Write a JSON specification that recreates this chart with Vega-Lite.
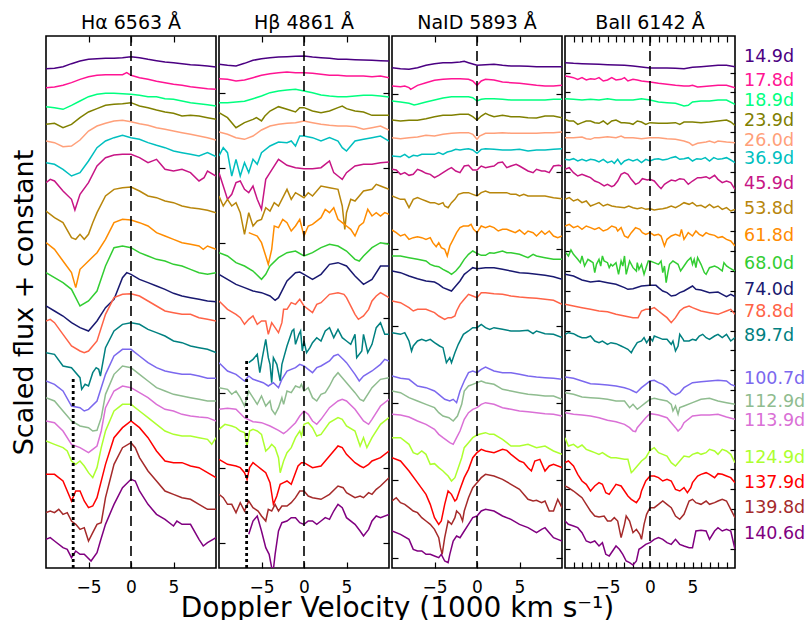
{
"$schema": "https://vega.github.io/schema/vega-lite/v6.json",
"background": "white",
"padding": {"left": 9, "top": 13, "right": 0, "bottom": 0},
"spacing": 3,
"bounds": "flush",
"datasets": {
"spec": [
{"p":"Ha","e":"14.9d","v":[-10,-9,-8,-7,-6,-5,-4,-3,-2,-1,0,1,2,3,4,5,6,7,8,9,10],"f":[1498,1499,1504,1513,1521,1526,1528,1529,1529,1531,1534,1531,1526,1522,1518,1516,1513,1510,1508,1506,1503]},
{"p":"Ha","e":"17.8d","v":[-10,-9,-8,-7,-6,-5,-4,-3,-2,-1,-0.5,0,1,2,3,4,5,6,7,8,9,10],"f":[1441,1443,1448,1456,1466,1474,1478,1480,1480,1480,1486,1478,1471,1466,1460,1456,1451,1448,1444,1441,1438,1436]},
{"p":"Ha","e":"18.9d","v":[-10,-9,-8,-7,-6,-5,-4,-3,-2,-1,0,1,2,3,4,5,6,7,8,9,10],"f":[1384,1381,1376,1388,1401,1414,1421,1424,1424,1423,1421,1418,1414,1414,1408,1406,1401,1396,1393,1390,1386]},
{"p":"Ha","e":"23.9d","v":[-10,-9,-8,-7,-6,-5,-4,-3,-2,-1,0,1,2,3,4,5,6,7,8,9,10],"f":[1331,1334,1321,1331,1351,1368,1378,1388,1391,1393,1396,1386,1381,1374,1368,1364,1356,1358,1356,1351,1346]},
{"p":"Ha","e":"26.0d","v":[-10,-9,-8,-7,-6,-5,-4,-3,-2,-1,0,1,2,3,4,5,6,7,8,9,10],"f":[1281,1276,1264,1266,1284,1311,1326,1334,1341,1343,1339,1333,1328,1321,1316,1311,1306,1301,1296,1291,1284]},
{"p":"Ha","e":"36.9d","v":[-10,-9,-8,-7,-6,-5,-4,-3,-2,-1,0,1,2,3,4,5,6,7,8,9,10],"f":[1216,1211,1196,1176,1186,1221,1261,1281,1291,1298,1291,1286,1276,1268,1261,1251,1246,1241,1236,1246,1234]},
{"p":"Ha","e":"45.9d","v":[-10,-9.5,-9,-8,-7,-6.6,-6,-5,-4,-3,-2,-1,0,1,2,2.7,3,3.5,4,5,6,7,8,8.6,9,10],"f":[1156,1166,1161,1131,1106,1074,1121,1156,1206,1231,1239,1241,1241,1231,1216,1223,1226,1211,1196,1191,1196,1186,1161,1171,1191,1176]},
{"p":"Ha","e":"53.8d","v":[-10,-9,-8,-7,-6.5,-6,-5.5,-5,-4.5,-4,-3,-2,-1,0,1,2,3,4,5,6,7,8,9,10],"f":[1071,1051,1036,991,986,1001,986,1001,1036,1066,1116,1136,1141,1143,1131,1116,1111,1101,1096,1086,1081,1078,1073,1066]},
{"p":"Ha","e":"61.8d","v":[-10,-9,-8,-7,-6.5,-6,-5,-4,-3,-2,-1,0,1,2,3,4,5,6,7,8,8.5,9,10],"f":[976,956,921,886,841,896,921,946,986,1036,1046,1044,1036,1026,1006,996,986,976,971,966,956,966,956]},
{"p":"Ha","e":"68.0d","v":[-10,-9,-8,-7,-6,-5,-4,-3,-2,-1,0,1,2,3,4,5,6,7,8,9,10],"f":[886,871,856,836,786,801,831,906,961,966,961,946,936,926,921,911,906,896,886,881,886]},
{"p":"Ha","e":"74.0d","v":[-10,-9,-8,-7,-6,-5,-4,-3,-2,-1,-0.5,0,1,2,3,4,5,6,7,8,9,10],"f":[786,771,756,736,721,711,741,781,806,871,886,881,866,856,846,836,824,816,811,806,801,799]},
{"p":"Ha","e":"78.8d","v":[-10,-9.5,-9,-8,-7,-6,-5.5,-5,-4,-3,-2,-1,0,1,2,3,4,5,6,7,8,9,10],"f":[741,746,736,701,666,651,646,651,681,761,811,821,823,816,801,786,771,766,761,761,751,746,741]},
{"p":"Ha","e":"89.7d","v":[-10,-9,-8,-7,-6,-5.8,-5.4,-5,-4.5,-4.1,-3.8,-3.6,-3,-2,-1,0,1,2,3,4,5,6,7,8,9,10],"f":[646,641,606,601,571,536,551,546,586,601,596,576,661,711,731,736,731,716,706,696,681,676,666,661,656,646]},
{"p":"Ha","e":"100.7d","v":[-10,-9,-8,-7,-6,-5.5,-5,-4,-3,-2,-1,0,1,2,3,4,5,6,7,8,9,10],"f":[561,551,531,486,481,471,476,501,581,636,656,656,636,616,601,591,586,581,581,576,569,569]},
{"p":"Ha","e":"112.9d","v":[-10,-9,-8,-7,-6,-5,-4.5,-4,-3.5,-3,-2,-1,0,1,2,3,4,5,6,7,8,9,10],"f":[511,501,471,441,426,421,411,413,451,521,581,606,601,581,561,541,531,521,516,511,506,501,501]},
{"p":"Ha","e":"113.9d","v":[-10,-9,-8,-7,-6,-5,-4.5,-4,-3.5,-3,-2,-1,0,1,2,3,4,5,6,7,8,9,10],"f":[441,436,411,371,361,346,356,366,411,481,531,546,541,526,511,491,476,471,461,456,453,451,441]},
{"p":"Ha","e":"124.9d","v":[-10,-9,-8,-7.5,-7,-6.5,-6,-5.5,-5,-4.5,-4,-3.5,-3,-2,-1,0,1,2,3,4,5,6,7,8,9,9.5,10],"f":[381,371,361,351,321,311,321,306,286,271,301,361,411,471,491,491,471,451,431,411,401,396,396,391,386,371,391]},
{"p":"Ha","e":"137.9d","v":[-10,-9,-8,-7,-6.5,-6,-5.5,-5,-4.5,-4,-3,-2,-1,0,1,2,3,4,5,6,7,8,9,10],"f":[281,281,261,201,231,231,201,181,186,211,311,391,421,441,421,391,351,321,316,316,306,301,286,271]},
{"p":"Ha","e":"139.8d","v":[-10,-9.5,-9,-8.5,-8,-7.5,-7,-6.5,-6,-5.5,-5,-4.5,-4,-3.5,-3,-2,-1,0,0.5,1,2,3,4,5,6,7,8,9,10],"f":[166,171,166,176,161,166,141,131,116,121,81,106,131,136,211,311,361,376,361,331,291,261,231,221,211,206,191,176,176]},
{"p":"Ha","e":"140.6d","v":[-10,-9.5,-9,-8,-7.5,-7,-6.5,-6,-5.5,-4.7,-4,-3.6,-3,-2,-1,0,0.5,1,2,3,4,5,5.4,6,7,8,8.5,9,10],"f":[86,91,81,61,56,31,51,41,41,21,46,81,131,191,241,266,261,231,191,161,146,126,141,131,131,86,66,76,91]},

{"p":"Hb","e":"14.9d","v":[-10,-9,-8,-7,-6,-5,-4,-3,-2,-1,0,1,2,3,4,5,6,7,8,9,10],"f":[1511,1508,1506,1514,1523,1528,1531,1533,1534,1535,1536,1533,1531,1529,1526,1526,1525,1524,1523,1522,1521]},
{"p":"Hb","e":"17.8d","v":[-10,-9,-8,-7,-6,-5,-4,-3,-2,-1,0,1,2,3,4,5,6,7,8,9,10],"f":[1468,1466,1461,1464,1471,1478,1483,1486,1488,1486,1486,1484,1481,1478,1478,1476,1476,1476,1474,1476,1471]},
{"p":"Hb","e":"18.9d","v":[-10,-9,-8,-7,-6,-5,-4,-3,-2,-1,0,1,2,3,4,5,6,7,8,9,10],"f":[1396,1396,1398,1400,1408,1416,1426,1431,1434,1436,1431,1426,1419,1416,1414,1414,1416,1418,1418,1416,1413]},
{"p":"Hb","e":"23.9d","v":[-10,-9,-8,-7,-6,-5.6,-5,-4.6,-4,-3,-2,-1,-0.5,0,1,2,3,4,4.5,5,6,7,8,9,10],"f":[1366,1351,1321,1336,1346,1351,1341,1356,1371,1384,1376,1368,1381,1381,1371,1366,1371,1381,1386,1378,1371,1368,1358,1358,1358]},
{"p":"Hb","e":"26.0d","v":[-10,-9,-8,-7,-6,-5,-4,-3,-2,-1,0,1,2,3,4,5,6,7,8,9,10],"f":[1308,1301,1291,1286,1296,1314,1326,1331,1334,1336,1341,1336,1331,1328,1326,1326,1324,1316,1321,1326,1314]},
{"p":"Hb","e":"36.9d","v":[-10,-9.5,-9,-8.5,-8,-7.5,-7,-6.5,-6,-5.5,-5,-4,-3,-2,-1.5,-1,-0.5,0,1,2,3,4,4.5,5,6,7,8,9,10],"f":[1236,1261,1246,1176,1226,1176,1216,1186,1226,1211,1246,1266,1278,1276,1281,1266,1296,1296,1291,1281,1291,1281,1261,1251,1281,1286,1291,1296,1281]},
{"p":"Hb","e":"45.9d","v":[-10,-9.5,-9,-8.5,-8,-7.5,-7,-6.5,-6,-5.5,-5,-4.5,-4,-3,-2,-1,0,1,2,3,3.5,4,4.5,5,6,7,8,9,10],"f":[1186,1146,1106,1121,1156,1161,1136,1126,1146,1106,1076,1166,1186,1226,1208,1201,1198,1198,1201,1221,1186,1176,1166,1186,1206,1211,1211,1216,1218]},
{"p":"Hb","e":"53.8d","v":[-10,-9.5,-9,-8.5,-8,-7.5,-7,-6.5,-6,-5.5,-5,-4.5,-4,-3.5,-3,-2,-1.5,-1,0,0.5,1,2,3,4,4.5,4.8,5,5.5,6,7,8,8.5,9,10],"f":[1116,1086,1106,1086,1096,1066,1001,1066,1026,1041,1046,1081,1071,1096,1086,1136,1106,1126,1111,1126,1116,1146,1141,1136,1086,1016,1066,1106,1101,1131,1136,1151,1146,1136]},
{"p":"Hb","e":"61.8d","v":[-6.5,-6,-5.5,-5,-4.5,-4.2,-3.8,-3.5,-3,-2.5,-2,-1.5,-1,-0.5,0,0.5,1,2,2.5,3,3.5,4,4.5,5,5.5,6,6.5,7,7.5,8,8.5,9,9.5,10],"f":[1006,1001,996,976,936,911,956,1026,1021,1046,1036,1011,1026,1046,996,1026,1031,1051,1076,1066,1081,1046,1036,1026,1016,996,1026,1036,1076,1056,1066,1056,1066,1061]},
{"p":"Hb","e":"68.0d","v":[-10,-9,-8,-7,-6,-5,-4.5,-4,-3,-2,-1,0,1,2,3,4,5,6,6.5,7,8,9,10],"f":[946,936,916,906,891,866,881,906,931,946,951,936,946,961,971,966,951,926,921,936,961,976,971]},
{"p":"Hb","e":"74.0d","v":[-10,-9,-8,-7,-6,-5,-4,-3.4,-3,-2,-1,-0.5,0,1,2,3,4,5,6,7,8,9,10],"f":[881,866,851,841,831,826,816,803,811,861,886,888,881,866,881,911,916,906,876,851,866,906,906]},
{"p":"Hb","e":"78.8d","v":[-10,-9,-8,-7.5,-7,-6.5,-6,-5.5,-5,-4.5,-4.2,-3.8,-3.4,-3,-2.6,-2.4,-2,-1.5,-1,-0.5,0,1,1.5,2,3,4,4.7,5,5.6,6,6.4,7,7.6,8,8.5,9,10],"f":[801,776,761,751,731,746,756,731,741,741,701,736,721,706,736,776,776,796,791,806,786,766,791,796,821,826,821,811,781,761,746,756,776,801,816,826,811]},
{"p":"Hb","e":"89.7d","v":[-6.5,-6,-5.5,-5.2,-4.9,-4.5,-4.2,-4,-3.8,-3.6,-3.2,-2.8,-2.6,-2,-1.4,-1.2,-1,-0.6,-0.4,-0.2,0,0.3,0.7,1,1.5,2,2.5,3,3.5,4,4.5,5,5.5,6,6.2,6.8,7,7.5,8,8.5,9,9.5,10],"f":[616,626,641,586,631,686,631,611,556,631,611,561,611,666,711,716,671,701,711,651,681,646,661,676,691,681,711,721,691,716,691,681,671,701,631,651,701,646,671,721,736,701,701]},
{"p":"Hb","e":"100.7d","v":[-10,-9,-8,-7,-6.5,-6,-5.4,-4.8,-4.2,-3.6,-3,-2.6,-2,-1,-0.5,0,0.5,1,1.5,2,3,3.5,4,4.6,5,6,6.5,7,8,9,9.5,10],"f":[616,591,581,561,576,566,561,556,546,556,541,566,591,601,611,606,596,586,601,606,621,636,641,626,616,581,561,576,591,611,626,621]},
{"p":"Hb","e":"112.9d","v":[-10,-9,-8.5,-8,-7.5,-7,-6.5,-6,-5.5,-5,-4.5,-4,-3.8,-3.4,-3,-2.6,-2.4,-2,-1.5,-1,-0.5,-0.3,0,0.5,1,1.5,2,2.5,3,3.5,4,4.5,5,6,6.6,7,7.5,8,9,10],"f":[541,536,521,531,511,486,531,511,491,516,486,501,476,461,481,511,491,531,526,546,541,551,531,541,511,501,521,526,546,571,586,571,556,526,506,501,521,541,566,571]},
{"p":"Hb","e":"113.9d","v":[-10,-9,-8,-7,-6,-5,-4,-3,-2.4,-2,-1,-0.5,0,0.5,1,1.5,2,3,4,4.5,5,6,7,7.6,8,9,10],"f":[476,479,476,451,439,436,426,413,403,411,436,456,471,461,441,431,446,481,501,506,501,476,441,431,446,486,506]},
{"p":"Hb","e":"124.9d","v":[-10,-9.3,-8.5,-8,-7.5,-7,-6.7,-6.4,-6,-5.5,-5,-4.5,-4.1,-3.8,-3.4,-3,-2.8,-2.4,-2,-1.5,-1,-0.5,-0.3,0,0.5,1,1.5,2,3,4,4.5,5,6,6.6,7,7.4,8,9,10],"f":[416,431,426,421,411,406,366,411,416,411,401,351,361,371,361,331,286,321,346,361,391,411,396,431,436,421,396,401,436,451,446,426,411,366,391,361,391,431,451]},
{"p":"Hb","e":"137.9d","v":[-10,-9,-8,-7.5,-7,-6.7,-6.4,-6,-5.5,-5,-4.5,-4,-3.6,-3.2,-2.8,-2.4,-2,-1.5,-1,-0.7,-0.3,0,1,2,3,4,4.5,5,6,6.6,7,7.6,8,9,10],"f":[326,311,306,301,286,266,301,316,306,296,286,256,191,216,251,256,261,251,286,306,316,316,301,306,336,366,361,341,316,306,301,311,321,331,351]},
{"p":"Hb","e":"139.8d","v":[-10,-9.5,-9,-8.5,-8,-7.5,-7,-6.5,-6,-5.4,-5,-4.5,-4.2,-3.8,-3.4,-3,-2.6,-2,-1.5,-1,-0.5,0,0.5,1,2,3,4,4.6,5,6,6.6,7,7.6,8,8.5,9,10],"f":[221,211,191,191,166,196,171,201,181,171,156,141,176,171,191,171,186,186,196,211,231,231,216,211,206,221,246,241,226,211,216,211,226,221,236,246,271]},
{"p":"Hb","e":"140.6d","v":[-6.5,-6,-5.5,-5,-4.5,-4.1,-3.8,-3.6,-3.4,-3,-2.6,-2,-1.5,-1,-0.5,0,0.5,1,1.5,2,2.5,3,3.5,4,4.5,5,6,6.6,7,7.6,8,8.5,9,10],"f":[101,141,156,111,61,41,1,-4,41,111,136,141,151,151,136,131,141,141,131,141,151,146,171,191,181,151,131,111,96,116,141,156,151,161]},

{"p":"Na","e":"14.9d","v":[-10,-9,-8,-7,-6,-5,-4,-3,-2,-1.5,-1,0,1,2,3,4,5,6,7,8,9,10],"f":[1501,1498,1496,1501,1508,1513,1516,1516,1518,1520,1516,1508,1510,1511,1508,1506,1506,1505,1504,1504,1504,1504]},
{"p":"Na","e":"17.8d","v":[-10,-9,-8.5,-8,-7.8,-7,-6,-5,-4,-3,-2,-1,-0.5,0,0.5,1,2,3,4,5,6,7,8,9,10],"f":[1446,1444,1446,1441,1436,1448,1456,1463,1466,1468,1468,1466,1461,1448,1461,1466,1464,1458,1456,1454,1451,1448,1446,1446,1448]},
{"p":"Na","e":"18.9d","v":[-10,-9,-8,-7.4,-7,-6,-5,-4,-3,-2,-1,-0.5,0,0.5,1,2,3,4,5,6,7,8,9,10],"f":[1401,1398,1394,1389,1391,1398,1404,1410,1414,1414,1414,1411,1401,1406,1408,1408,1406,1404,1404,1404,1404,1404,1406,1406]},
{"p":"Na","e":"23.9d","v":[-10,-9,-8,-7,-6,-5,-4,-3,-2,-1,-0.5,0,0.5,1,1.5,2,3,4,5,6,7,8,9,10],"f":[1344,1341,1343,1343,1348,1354,1358,1358,1361,1361,1354,1344,1356,1364,1358,1354,1358,1354,1354,1351,1350,1356,1356,1351]},
{"p":"Na","e":"26.0d","v":[-10,-9,-8,-7,-6,-5,-4,-3,-2,-1,-0.5,0,0.3,1,2,3,4,5,6,7,8,9,10],"f":[1291,1288,1291,1293,1298,1296,1301,1304,1306,1306,1301,1286,1296,1304,1304,1306,1304,1304,1304,1304,1306,1306,1308]},
{"p":"Na","e":"36.9d","v":[-10,-9,-8.5,-8,-7.5,-7,-6.5,-6,-5,-4.5,-4,-3.5,-3,-2.5,-2,-1.5,-1,-0.5,0,0.5,1,2,3,4,5,6,7,8,9,10],"f":[1236,1234,1241,1231,1238,1236,1241,1241,1241,1246,1241,1248,1251,1256,1254,1256,1258,1254,1244,1256,1258,1256,1254,1254,1256,1251,1254,1254,1256,1258]},
{"p":"Na","e":"45.9d","v":[-10,-9.5,-9,-8.5,-8,-7.5,-7,-6.5,-6,-5.5,-5,-4.5,-4,-3.4,-3,-2.5,-2,-1.5,-1,-0.5,0,0.5,1,1.5,2,2.5,3,3.5,4,4.6,5,6,6.6,7,7.6,8,8.5,9,9.6,10],"f":[1196,1194,1181,1186,1178,1181,1196,1191,1184,1181,1171,1178,1186,1196,1201,1191,1186,1206,1208,1194,1194,1206,1201,1204,1206,1216,1218,1201,1206,1211,1206,1191,1186,1196,1191,1191,1186,1206,1208,1206]},
{"p":"Na","e":"53.8d","v":[-10,-9,-8.5,-8,-7.5,-7,-6.5,-6,-5.5,-5,-4.5,-4,-3.8,-3.4,-3,-2.6,-2.2,-1.6,-1,-0.5,0,0.5,1,1.5,2,3,3.5,4,4.6,5,5.5,6,7,8,9,10],"f":[1116,1106,1106,1081,1106,1111,1106,1101,1096,1096,1091,1096,1086,1081,1096,1106,1121,1126,1126,1121,1116,1126,1131,1126,1126,1126,1126,1121,1121,1116,1121,1116,1116,1116,1111,1108]},
{"p":"Na","e":"61.8d","v":[-10,-9.5,-9,-8.5,-8,-7.5,-7,-6.5,-6,-5.5,-5.2,-4.8,-4.5,-4.2,-3.8,-3.5,-3.2,-2.8,-2.4,-2,-1.6,-1,-0.7,-0.4,0,0.5,1,1.5,2,2.5,3,3.5,4,4.5,5,5.6,6,6.6,7,7.6,8,8.5,9,9.5,10],"f":[1014,1006,996,1001,986,991,994,991,986,991,976,964,976,961,956,936,966,986,1006,1021,1026,1026,1031,1016,1006,1026,1021,1026,1021,1011,1016,1016,1011,1006,1014,1001,1011,1006,996,1011,1001,1011,996,991,996]},
{"p":"Na","e":"68.0d","v":[-10,-9,-8,-7,-6,-5.5,-5,-4.5,-4,-3.4,-3,-2.5,-2,-1.5,-1,-0.5,0,0.5,1,1.5,2,3,3.5,4,5,6,6.6,7,8,9,10],"f":[936,936,931,926,921,911,906,904,896,888,881,891,906,926,941,951,944,938,938,946,944,951,946,946,941,931,941,936,931,926,926]},
{"p":"Na","e":"74.0d","v":[-10,-9,-8,-7,-6,-5,-4.5,-4,-3,-2.5,-2,-1.5,-1,-0.5,0,1,2,3,4,5,6,7,8,9,10],"f":[891,886,876,868,861,858,851,841,831,846,861,881,891,901,898,901,901,896,891,886,884,881,878,874,866]},
{"p":"Na","e":"78.8d","v":[-10,-9,-8,-7.5,-7,-6,-5,-4.5,-3.8,-3.4,-3,-2.6,-2.4,-2,-1.5,-1,-0.5,0,0.5,1,2,3,4,5,6,7,8,9,10],"f":[801,796,781,771,776,776,766,756,746,751,751,756,771,791,806,821,816,811,826,826,823,821,816,813,811,809,806,803,791]},
{"p":"Na","e":"89.7d","v":[-10,-9,-8.5,-8.2,-8,-7.7,-7.5,-7,-6.5,-6,-5.5,-5,-4.4,-4,-3.6,-3.2,-3,-2.6,-2.2,-1.6,-1,-0.5,0,0.5,1,1.5,2,3,4,5,6,6.6,7,8,9,10],"f":[706,701,706,691,681,651,666,681,686,681,686,676,666,661,616,631,616,646,671,701,711,721,721,731,721,716,721,716,711,711,713,703,711,703,701,691]},
{"p":"Na","e":"100.7d","v":[-10,-9,-8,-7,-6,-5,-4.5,-3.8,-3.2,-2.8,-2.4,-2,-1.5,-1,-0.5,0,0.5,1,2,3,4,5,6,7,8,9,10],"f":[576,569,566,546,541,531,521,506,501,506,496,531,561,586,591,586,596,603,591,586,586,581,576,573,571,569,566]},
{"p":"Na","e":"112.9d","v":[-10,-9,-8,-7,-6,-5,-4.5,-4,-3.3,-2.8,-2.3,-1.8,-1.5,-1,-0.5,0,0.5,1,2,3,4,5,6,7,8,9,10],"f":[531,526,511,501,491,481,466,456,451,441,456,491,531,546,551,556,561,556,551,536,531,526,521,519,516,516,506]},
{"p":"Na","e":"113.9d","v":[-10,-9,-8,-7,-6,-5,-4.5,-4,-3.2,-2.8,-2.4,-2,-1.5,-1,-0.5,0,0.5,1,2,3,4,5,6,7,8,9,10],"f":[461,459,453,441,431,416,401,391,376,371,391,411,446,466,476,481,491,496,491,481,476,471,469,466,463,461,456]},
{"p":"Na","e":"124.9d","v":[-10,-9,-8,-7.5,-7,-6.5,-6,-5.5,-5,-4.5,-4,-3.8,-3.4,-3,-2.6,-2.2,-1.8,-1.5,-1,-0.5,0,0.5,1,1.5,2,3,3.5,4,5,6,7,8,9,10],"f":[391,391,371,346,341,351,341,311,313,301,291,286,276,261,271,301,331,361,376,391,399,403,406,401,401,386,376,366,366,371,361,366,351,341]},
{"p":"Na","e":"137.9d","v":[-10,-9,-8,-7,-6,-5.5,-5,-4.5,-4.2,-3.8,-3.4,-3,-2.6,-2.4,-2,-1.5,-1,-0.5,0,0.5,1,2,3,3.5,4,5,5.5,6,6.4,6.8,7.4,8,8.5,9,10],"f":[331,321,291,256,221,191,151,131,141,191,231,221,201,206,236,271,296,331,346,356,351,346,356,353,341,321,316,301,291,321,326,291,306,311,301]},
{"p":"Na","e":"139.8d","v":[-10,-9.5,-9,-8.5,-8,-7.5,-7,-6.5,-6,-5.5,-5,-4.5,-4.3,-4.1,-3.8,-3.4,-3,-2.6,-2.4,-2,-1.7,-1.5,-1,-0.5,0,0.5,1,2,3,4,5,6,6.6,7,7.6,8,8.5,9,9.5,10],"f":[201,211,196,191,181,171,166,151,141,131,116,91,61,41,91,141,131,151,171,161,141,171,211,241,256,271,281,276,266,251,236,206,201,203,196,201,171,171,206,181]},
{"p":"Na","e":"140.6d","v":[-10,-9,-8,-7.5,-7,-6.5,-6,-5.5,-5,-4.5,-4.2,-3.8,-3.4,-3.2,-2.8,-2.4,-2,-1.5,-1,-0.5,0,0.5,1,2,3,4,5,6,7,7.6,8,8.5,9,9.5,10],"f":[111,101,86,56,51,51,41,41,36,31,41,21,16,41,81,96,91,111,131,151,156,171,176,171,156,146,131,121,106,116,121,106,91,86,81]},

{"p":"Ba","e":"14.9d","v":[-10,-9,-8,-7,-6,-5,-4,-3,-2,-1,0,1,2,3,4,5,6,7,8,9,10],"f":[1516,1514,1513,1512,1511,1510,1509,1508,1506,1503,1500,1500,1500,1499,1498,1502,1504,1506,1508,1508,1504]},
{"p":"Ba","e":"17.8d","v":[-10,-9.5,-9,-8.5,-8,-7.5,-7,-6.5,-6,-5.5,-5,-4.5,-4,-3.4,-3,-2.6,-2,-1.5,-1,0,1,2,3,4,4.6,5,5.6,6,7,8,9,10],"f":[1476,1474,1471,1466,1471,1464,1468,1466,1471,1461,1464,1471,1464,1466,1471,1461,1466,1464,1461,1458,1454,1451,1448,1446,1446,1448,1443,1444,1446,1448,1448,1441]},
{"p":"Ba","e":"18.9d","v":[-10,-9,-8,-7,-6,-5,-4,-3,-2,-1,0,1,2,3,4,4.5,5,6,7,8,9,10],"f":[1408,1406,1404,1406,1404,1408,1404,1404,1404,1408,1404,1398,1396,1394,1386,1388,1398,1401,1401,1404,1404,1391]},
{"p":"Ba","e":"23.9d","v":[-10,-9.5,-9,-8.5,-8,-7.5,-7,-6.5,-6,-5.5,-5,-4.5,-4,-3.4,-3,-2.4,-2,-1.5,-1,-0.5,0,1,2,3,3.5,4,5,6,7,8,9,9.5,10],"f":[1346,1341,1341,1331,1336,1341,1341,1336,1334,1341,1331,1341,1344,1336,1336,1334,1331,1341,1338,1331,1336,1334,1334,1336,1331,1338,1338,1336,1338,1341,1344,1338,1328]},
{"p":"Ba","e":"26.0d","v":[-10,-9,-8,-7.5,-7,-6.5,-6,-5,-4,-3.4,-3,-2,-1,0,1,2,3,4,4.6,5,5.6,6,6.6,7,7.6,8,9,10],"f":[1291,1291,1293,1288,1286,1291,1291,1294,1291,1296,1291,1291,1288,1291,1291,1288,1286,1281,1276,1268,1274,1276,1278,1281,1276,1281,1278,1276]},
{"p":"Ba","e":"36.9d","v":[-10,-9.5,-9,-8.5,-8,-7.5,-7,-6.5,-6,-5.5,-5,-4.5,-4.2,-3.8,-3.4,-3,-2.5,-2,-1.5,-1,-0.5,0,0.5,1,1.5,2,2.5,3,3.5,4,4.5,5,5.5,6,6.5,7,7.5,8,8.5,9,9.5,10],"f":[1226,1224,1228,1221,1226,1221,1226,1224,1218,1226,1216,1221,1214,1226,1211,1221,1226,1221,1226,1216,1226,1221,1226,1228,1224,1226,1231,1234,1226,1228,1231,1221,1228,1226,1231,1221,1231,1226,1228,1231,1224,1216]},
{"p":"Ba","e":"45.9d","v":[-10,-9.5,-9,-8.5,-8,-7.5,-7,-6.5,-6,-5.4,-5,-4.5,-4.2,-3.8,-3.4,-3,-2.6,-2.2,-1.7,-1.3,-0.9,-0.3,0,0.5,1,1.3,1.7,2,2.5,3,3.5,4,4.5,5,5.6,6,6.6,7,7.6,8,8.5,9,9.5,10],"f":[1196,1201,1186,1176,1181,1176,1171,1161,1156,1146,1151,1144,1148,1161,1181,1186,1181,1166,1151,1156,1168,1164,1166,1161,1146,1138,1151,1156,1164,1161,1168,1166,1151,1161,1171,1171,1174,1168,1178,1166,1156,1161,1156,1136]},
{"p":"Ba","e":"53.8d","v":[-10,-9.5,-9,-8.5,-8,-7.5,-7,-6.5,-6,-5.5,-5,-4.5,-4,-3,-2.5,-2,-1.5,-1,-0.5,0,0.5,1,1.5,2,2.5,3,3.5,4,4.6,5,5.5,6,6.5,7,7.5,8,8.5,9,9.5,10],"f":[1106,1111,1101,1106,1096,1101,1086,1091,1096,1086,1091,1086,1084,1081,1086,1081,1078,1081,1076,1078,1074,1076,1078,1081,1086,1081,1088,1096,1091,1096,1086,1088,1081,1091,1081,1086,1076,1081,1071,1076]},
{"p":"Ba","e":"61.8d","v":[-10,-9.5,-9,-8.5,-8,-7.5,-7,-6.5,-6,-5.5,-5,-4.5,-4,-3.8,-3.4,-3,-2.6,-2.2,-1.7,-1.2,-0.9,-0.5,0,0.5,1,1.3,1.7,2,2.5,3,3.5,3.7,4,4.5,5,5.4,5.8,6.2,6.6,7,7.6,8,8.5,9,9.5,10],"f":[1026,1031,1021,1026,1016,1026,1021,1016,1021,1011,1016,1026,1021,1011,1021,996,991,1006,1021,1016,1006,1001,1006,998,1001,996,966,986,996,1001,996,1016,986,1006,996,1011,1001,996,1006,1001,998,991,994,986,981,966]},
{"p":"Ba","e":"68.0d","v":[-9.9,-9.6,-9.3,-9,-8.5,-8.2,-8,-7.7,-7.3,-7,-6.7,-6.5,-6.3,-6,-5.8,-5.6,-5.4,-5,-4.8,-4.6,-4.4,-4,-3.7,-3.4,-3.2,-3,-2.8,-2.4,-2,-1.6,-1.5,-1.3,-1,-0.7,-0.4,-0.2,0,0.5,1,1.3,1.5,1.7,1.9,2.1,2.3,2.7,3,3.3,3.6,4,4.4,4.8,5,5.2,5.4,5.6,6,6.4,6.6,7,7.6,8,8.5,8.7,9,9.3,10],"f":[946,936,954,941,926,916,936,906,926,921,916,886,911,926,906,936,921,916,901,911,906,916,881,921,906,936,881,921,901,891,916,896,911,881,906,921,921,916,911,921,886,906,856,886,911,921,916,911,891,906,921,931,911,926,901,931,911,886,881,901,906,901,891,916,906,901,891]},
{"p":"Ba","e":"74.0d","v":[-10,-9,-8,-7,-6,-5,-4,-3,-2.6,-2,-1,0,0.7,1,1.5,2,2.5,3,3.5,4,5,5.4,6,7,8,8.5,9,9.5,10],"f":[881,876,864,858,861,856,851,841,836,838,846,848,848,841,831,826,816,818,826,831,846,836,834,826,828,821,814,821,814]},
{"p":"Ba","e":"78.8d","v":[-10,-9,-8,-7,-6,-5,-4,-3,-2,-1.4,-1,-0.5,0,0.5,1,1.5,2,2.5,3,3.5,4,4.6,5,6,7,8,9,9.5,10],"f":[791,786,781,776,771,769,761,756,751,751,771,776,776,781,771,761,751,736,751,771,781,786,781,771,766,761,771,776,761]},
{"p":"Ba","e":"89.7d","v":[-10,-9.6,-9,-8.5,-8,-7.5,-7,-6.5,-6,-5.6,-5,-4.6,-4,-3.4,-3,-2.6,-2.2,-2,-1.5,-1,-0.7,-0.4,0,0.3,0.5,1,1.5,2,2.5,2.7,3,3.3,3.5,3.9,4,4.6,5,5.4,5.8,6.2,6.6,7,7.6,8,8.5,9,9.5,10],"f":[701,706,703,696,691,691,696,681,676,681,671,676,673,666,661,656,646,656,676,681,691,676,691,681,696,691,686,686,671,681,651,666,701,686,681,681,686,683,696,701,691,686,696,701,691,701,681,691]},
{"p":"Ba","e":"100.7d","v":[-10,-9,-8,-7,-6,-5,-4,-3,-2.4,-2,-1.6,-1,-0.5,0,0.5,1,1.5,2,2.5,3,3.5,4,5,6,7,8,9,9.5,10],"f":[573,569,561,553,551,549,546,541,536,531,526,541,551,561,563,556,551,541,526,519,526,541,556,559,561,563,561,551,546]},
{"p":"Ba","e":"112.9d","v":[-10,-9,-8,-7,-6,-5,-4,-3,-2.4,-2,-1.5,-1,-0.5,0,0.5,1,2,2.5,2.7,3,3.3,3.5,4,5,6,7,8,9,10],"f":[526,521,513,511,509,506,501,501,481,491,476,486,496,506,509,506,501,491,471,486,461,481,486,496,506,509,501,496,491]},
{"p":"Ba","e":"113.9d","v":[-10,-9,-8,-7,-6,-5,-4,-3,-2.4,-2,-1.7,-1.5,-1,-0.5,0,0.5,1,2,2.5,3,3.3,3.7,4,5,6,7,8,9,10],"f":[466,461,459,456,451,443,439,431,421,411,409,421,436,451,463,461,459,451,436,421,411,421,436,456,459,459,461,453,446]},
{"p":"Ba","e":"124.9d","v":[-10,-9.6,-9,-8.5,-8,-7.5,-7,-6.5,-6,-5.6,-5,-4.6,-4,-3,-2.6,-2.2,-2,-1.5,-1,-0.5,0,0.5,1,1.5,2,2.5,3,3.5,4,4.6,5,5.6,6,6.6,7,7.6,8,8.5,9,9.5,10],"f":[391,366,371,361,369,356,351,346,341,346,336,331,331,326,326,286,291,306,321,331,353,361,346,341,336,316,306,321,336,333,341,346,341,346,356,351,341,356,351,341,316]},
{"p":"Ba","e":"137.9d","v":[-10,-9.6,-9,-8.5,-8,-7.5,-7,-6.5,-6,-5.6,-5.2,-4.8,-4.4,-4,-3.4,-3,-2.6,-2.2,-1.6,-1.2,-1,-0.5,0,0.5,1,1.5,2,2.5,3,3.5,4,4.4,4.8,5,5.6,6,6.6,7,7.6,8,8.5,9,9.5,10],"f":[316,321,306,281,261,251,231,246,256,251,226,221,236,251,246,231,216,206,196,211,231,261,276,276,271,261,266,261,236,231,241,226,241,256,276,281,286,281,271,283,281,276,271,256]},
{"p":"Ba","e":"139.8d","v":[-10,-9.6,-9,-8.5,-8,-7.5,-7,-6.5,-6,-5.4,-5,-4.6,-4.2,-3.8,-3.4,-3,-2.8,-2.4,-2,-1.6,-1.2,-1,-0.7,-0.4,0,0.5,1,1.5,2,2.5,3,3.5,4,4.6,5,5.4,6,6.6,7,7.6,8,8.5,9,9.5,10],"f":[246,241,231,221,211,191,171,156,153,156,141,141,151,141,91,131,156,141,106,116,101,86,131,161,181,181,191,201,191,181,156,146,161,201,206,196,191,201,191,196,201,206,201,176,151]},
{"p":"Ba","e":"140.6d","v":[-10,-9.6,-9,-8.5,-8,-7.5,-7,-6.5,-6,-5.6,-5.2,-4.8,-4.4,-4,-3.6,-3.2,-2.8,-2.4,-2,-1.6,-1.3,-1,-0.5,0,0.5,1,1.5,2,2.5,3,3.5,4,4.6,5,5.4,6,6.6,7,7.6,8,8.5,9,9.5,10],"f":[141,131,126,121,106,81,76,81,66,76,41,36,51,66,56,41,21,16,9,21,56,61,71,76,86,91,86,76,71,86,71,66,61,61,111,113,111,86,111,121,111,116,111,56]}
],
"marks": [
{"p":"Ha","v":-6.8,"f0":0,"f1":571},
{"p":"Hb","v":-6.75,"f0":0,"f1":627}
],
"labels": [
{"e":"14.9d","ly":1533},{"e":"17.8d","ly":1461},{"e":"18.9d","ly":1401},{"e":"23.9d","ly":1341},{"e":"26.0d","ly":1281},{"e":"36.9d","ly":1226},{"e":"45.9d","ly":1151},{"e":"53.8d","ly":1076},{"e":"61.8d","ly":996},{"e":"68.0d","ly":913},{"e":"74.0d","ly":833},{"e":"78.8d","ly":769},{"e":"89.7d","ly":696},{"e":"100.7d","ly":566},{"e":"112.9d","ly":499},{"e":"113.9d","ly":441},{"e":"124.9d","ly":331},{"e":"137.9d","ly":256},{"e":"139.8d","ly":180},{"e":"140.6d","ly":102}
]
},
"hconcat": [
{
"width": 170, "height": 532,
"title": {"text": "Hα 6563 Å"},
"resolve": {"axis": {"x": "independent", "y": "independent"}},
"layer": [
{"data": {"name": "spec"}, "transform": [{"filter": "datum.p === 'Ha'"}, {"flatten": ["v", "f"]}],
 "mark": {"type": "line", "strokeWidth": 1.5, "clip": true},
 "encoding": {
  "x": {"field": "v", "type": "quantitative", "scale": {"domain": [-10, 10], "nice": false, "zero": false}, "axis": {"orient": "bottom", "values": [-5, 0, 5], "tickSize": -6, "labelPadding": 17, "title": null}},
  "y": {"field": "f", "type": "quantitative", "scale": {"domain": [0, 1596], "nice": false, "zero": false}, "axis": {"orient": "left", "ticks": false, "labels": false, "title": "Scaled flux + constant", "titleFontSize": 27, "titlePadding": 8}},
  "color": {"field": "e", "type": "nominal", "scale": {"domain": ["14.9d","17.8d","18.9d","23.9d","26.0d","36.9d","45.9d","53.8d","61.8d","68.0d","74.0d","78.8d","89.7d","100.7d","112.9d","113.9d","124.9d","137.9d","139.8d","140.6d"], "range": ["#4B0082","#FF1493","#00FF7F","#808000","#FFA07A","#00BFBF","#C71585","#B8860B","#FF8C00","#32CD32","#191970","#FF6347","#008080","#7B68EE","#8FBC8F","#DA70D6","#ADFF2F","#FF0000","#A52A2A","#800080"]}, "legend": null}
 }},
{"data": {"values": [{"z": 0}]},
 "mark": {"type": "rule", "strokeDash": [10, 5], "strokeWidth": 1.6, "color": "black"},
 "encoding": {"x": {"field": "z", "type": "quantitative", "axis": {"orient": "top", "values": [-5, 0, 5], "tickSize": -6, "labels": false, "title": null}}}},
{"data": {"name": "marks"}, "transform": [{"filter": "datum.p === 'Ha'"}],
 "mark": {"type": "rule", "strokeDash": [3, 3], "strokeWidth": 2.8, "color": "black"},
 "encoding": {"x": {"field": "v", "type": "quantitative", "axis": null}, "y": {"field": "f0", "type": "quantitative", "axis": null}, "y2": {"field": "f1"}}}
]
},
{
"width": 170, "height": 532,
"title": {"text": "Hβ 4861 Å"},
"resolve": {"axis": {"x": "independent", "y": "independent"}},
"layer": [
{"data": {"name": "spec"}, "transform": [{"filter": "datum.p === 'Hb'"}, {"flatten": ["v", "f"]}],
 "mark": {"type": "line", "strokeWidth": 1.5, "clip": true},
 "encoding": {
  "x": {"field": "v", "type": "quantitative", "scale": {"domain": [-10, 10], "nice": false, "zero": false}, "axis": {"orient": "bottom", "values": [-5, 0, 5], "tickSize": -6, "labelPadding": 17, "title": "Doppler Velocity (1000 km s⁻¹)", "titleFontSize": 28, "titleX": 178, "titleY": 48, "titleAlign": "center", "titleBaseline": "alphabetic"}},
  "y": {"field": "f", "type": "quantitative", "scale": {"domain": [0, 1596], "nice": false, "zero": false}, "axis": {"orient": "left", "values": [76, 301, 526, 751, 976, 1201, 1426], "tickSize": -6, "labels": false, "title": null}},
  "color": {"field": "e", "type": "nominal", "scale": {"domain": ["14.9d","17.8d","18.9d","23.9d","26.0d","36.9d","45.9d","53.8d","61.8d","68.0d","74.0d","78.8d","89.7d","100.7d","112.9d","113.9d","124.9d","137.9d","139.8d","140.6d"], "range": ["#4B0082","#FF1493","#00FF7F","#808000","#FFA07A","#00BFBF","#C71585","#B8860B","#FF8C00","#32CD32","#191970","#FF6347","#008080","#7B68EE","#8FBC8F","#DA70D6","#ADFF2F","#FF0000","#A52A2A","#800080"]}, "legend": null}
 }},
{"data": {"values": [{"z": 0}]},
 "mark": {"type": "rule", "strokeDash": [10, 5], "strokeWidth": 1.6, "color": "black"},
 "encoding": {"x": {"field": "z", "type": "quantitative", "axis": {"orient": "top", "values": [-5, 0, 5], "tickSize": -6, "labels": false, "title": null}}}},
{"data": {"values": [{"z": 0}]},
 "mark": {"type": "point", "opacity": 0},
 "encoding": {"x": {"field": "z", "type": "quantitative", "axis": null}, "y": {"field": "z", "type": "quantitative", "axis": {"orient": "right", "values": [76, 301, 526, 751, 976, 1201, 1426], "tickSize": -6, "labels": false, "title": null}}}},
{"data": {"name": "marks"}, "transform": [{"filter": "datum.p === 'Hb'"}],
 "mark": {"type": "rule", "strokeDash": [3, 3], "strokeWidth": 2.8, "color": "black"},
 "encoding": {"x": {"field": "v", "type": "quantitative", "axis": null}, "y": {"field": "f0", "type": "quantitative", "axis": null}, "y2": {"field": "f1"}}}
]
},
{
"width": 170, "height": 532,
"title": {"text": "NaID 5893 Å"},
"resolve": {"axis": {"x": "independent", "y": "independent"}},
"layer": [
{"data": {"name": "spec"}, "transform": [{"filter": "datum.p === 'Na'"}, {"flatten": ["v", "f"]}],
 "mark": {"type": "line", "strokeWidth": 1.5, "clip": true},
 "encoding": {
  "x": {"field": "v", "type": "quantitative", "scale": {"domain": [-10, 10], "nice": false, "zero": false}, "axis": {"orient": "bottom", "values": [-5, 0, 5], "tickSize": -6, "labelPadding": 17, "title": null}},
  "y": {"field": "f", "type": "quantitative", "scale": {"domain": [0, 1596], "nice": false, "zero": false}, "axis": {"orient": "left", "values": [31, 263, 494, 726, 958, 1189, 1421], "tickSize": -6, "labels": false, "title": null}},
  "color": {"field": "e", "type": "nominal", "scale": {"domain": ["14.9d","17.8d","18.9d","23.9d","26.0d","36.9d","45.9d","53.8d","61.8d","68.0d","74.0d","78.8d","89.7d","100.7d","112.9d","113.9d","124.9d","137.9d","139.8d","140.6d"], "range": ["#4B0082","#FF1493","#00FF7F","#808000","#FFA07A","#00BFBF","#C71585","#B8860B","#FF8C00","#32CD32","#191970","#FF6347","#008080","#7B68EE","#8FBC8F","#DA70D6","#ADFF2F","#FF0000","#A52A2A","#800080"]}, "legend": null}
 }},
{"data": {"values": [{"z": 0}]},
 "mark": {"type": "rule", "strokeDash": [10, 5], "strokeWidth": 1.6, "color": "black"},
 "encoding": {"x": {"field": "z", "type": "quantitative", "axis": {"orient": "top", "values": [-5, 0, 5], "tickSize": -6, "labels": false, "title": null}}}},
{"data": {"values": [{"z": 0}]},
 "mark": {"type": "point", "opacity": 0},
 "encoding": {"x": {"field": "z", "type": "quantitative", "axis": null}, "y": {"field": "z", "type": "quantitative", "axis": {"orient": "right", "values": [31, 263, 494, 726, 958, 1189, 1421], "tickSize": -6, "labels": false, "title": null}}}}
]
},
{
"width": 170, "height": 532,
"title": {"text": "BaII 6142 Å"},
"resolve": {"axis": {"x": "independent", "y": "independent"}},
"layer": [
{"data": {"name": "spec"}, "transform": [{"filter": "datum.p === 'Ba'"}, {"flatten": ["v", "f"]}],
 "mark": {"type": "line", "strokeWidth": 1.5, "clip": true},
 "encoding": {
  "x": {"field": "v", "type": "quantitative", "scale": {"domain": [-10, 10], "nice": false, "zero": false}, "axis": {"orient": "bottom", "values": [-9,-8,-7,-6,-5,-4,-3,-2,-1,0,1,2,3,4,5,6,7,8,9], "labelExpr": "datum.value === -5 || datum.value === 0 || datum.value === 5 ? datum.label : ''", "tickSize": -6, "labelPadding": 17, "title": null}},
  "y": {"field": "f", "type": "quantitative", "scale": {"domain": [0, 1596], "nice": false, "zero": false}, "axis": {"orient": "left", "values": [58,117.5,177,236.5,296,355.5,415,474.5,534,593.5,653,712.5,772,831.5,891,950.5,1010,1069.5,1129,1188.5,1248,1307.5,1367,1426.5,1486], "tickSize": -5, "labels": false, "title": null}},
  "color": {"field": "e", "type": "nominal", "scale": {"domain": ["14.9d","17.8d","18.9d","23.9d","26.0d","36.9d","45.9d","53.8d","61.8d","68.0d","74.0d","78.8d","89.7d","100.7d","112.9d","113.9d","124.9d","137.9d","139.8d","140.6d"], "range": ["#4B0082","#FF1493","#00FF7F","#808000","#FFA07A","#00BFBF","#C71585","#B8860B","#FF8C00","#32CD32","#191970","#FF6347","#008080","#7B68EE","#8FBC8F","#DA70D6","#ADFF2F","#FF0000","#A52A2A","#800080"]}, "legend": null}
 }},
{"data": {"values": [{"z": 0}]},
 "mark": {"type": "rule", "strokeDash": [10, 5], "strokeWidth": 1.6, "color": "black"},
 "encoding": {"x": {"field": "z", "type": "quantitative", "axis": {"orient": "top", "values": [-9,-8,-7,-6,-5,-4,-3,-2,-1,0,1,2,3,4,5,6,7,8,9], "tickSize": -6, "labels": false, "title": null}}}},
{"data": {"values": [{"z": 0}]},
 "mark": {"type": "point", "opacity": 0},
 "encoding": {"x": {"field": "z", "type": "quantitative", "axis": null}, "y": {"field": "z", "type": "quantitative", "axis": {"orient": "right", "values": [58,117.5,177,236.5,296,355.5,415,474.5,534,593.5,653,712.5,772,831.5,891,950.5,1010,1069.5,1129,1188.5,1248,1307.5,1367,1426.5,1486], "tickSize": -5, "labels": false, "title": null}}}},
{"data": {"name": "labels"},
 "mark": {"type": "text", "align": "left", "baseline": "middle", "dx": 9, "fontSize": 17.5, "clip": false},
 "encoding": {
  "x": {"datum": 10, "type": "quantitative", "axis": null},
  "y": {"field": "ly", "type": "quantitative", "axis": null},
  "text": {"field": "e"},
  "color": {"field": "e", "type": "nominal", "scale": {"domain": ["14.9d","17.8d","18.9d","23.9d","26.0d","36.9d","45.9d","53.8d","61.8d","68.0d","74.0d","78.8d","89.7d","100.7d","112.9d","113.9d","124.9d","137.9d","139.8d","140.6d"], "range": ["#4B0082","#FF1493","#00FF7F","#808000","#FFA07A","#00BFBF","#C71585","#B8860B","#FF8C00","#32CD32","#191970","#FF6347","#008080","#7B68EE","#8FBC8F","#DA70D6","#ADFF2F","#FF0000","#A52A2A","#800080"]}, "legend": null}
 }}
]
}
],
"config": {
 "font": "DejaVu Sans",
 "view": {"stroke": "black", "strokeWidth": 1.6},
 "axis": {"domain": false, "grid": false, "tickColor": "black", "tickWidth": 1.2, "labelFont": "DejaVu Sans", "labelFontSize": 17, "labelColor": "black", "titleFont": "DejaVu Sans", "titleFontWeight": "normal", "titleColor": "black"},
 "title": {"font": "DejaVu Sans", "fontSize": 19, "fontWeight": "normal", "color": "black", "offset": 2, "anchor": "middle"},
 "text": {"font": "DejaVu Sans"}
}
}
